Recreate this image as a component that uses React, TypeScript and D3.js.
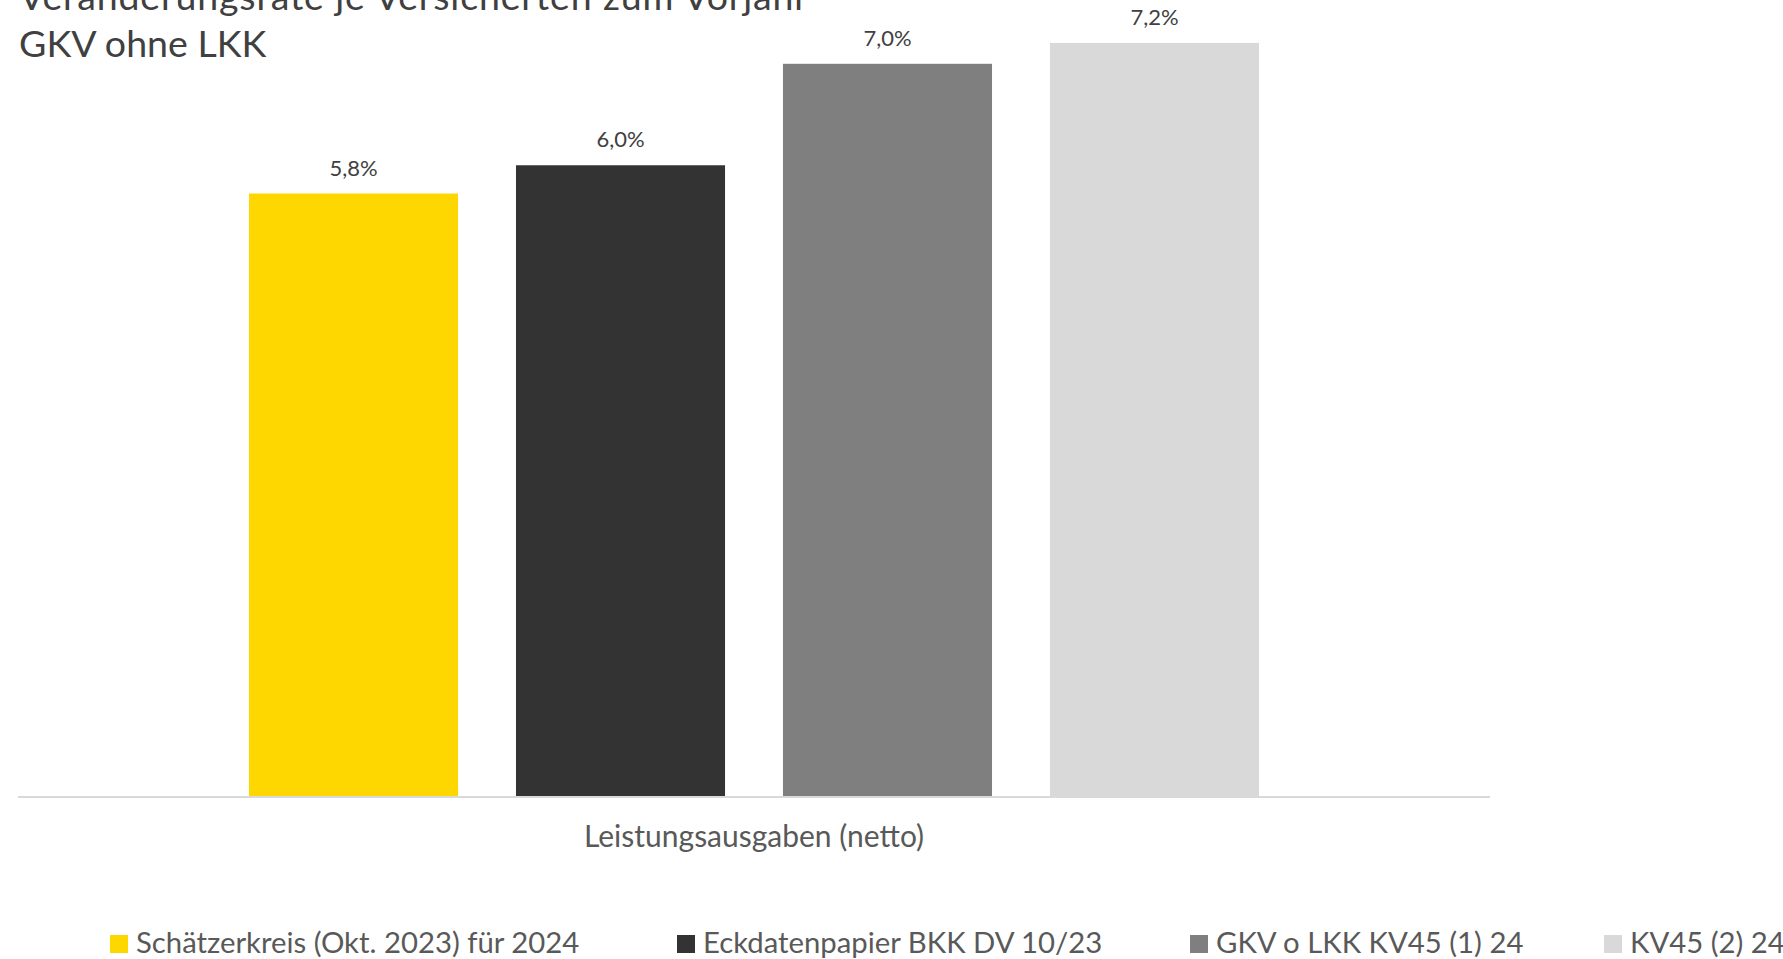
import React from "react";
import * as d3 from "d3";

const titleLines = ["Veränderungsrate je Versicherten zum Vorjahr", "GKV ohne LKK"];
const categories = ["Leistungsausgaben (netto)"];
const seriesNames = [
  "Schätzerkreis (Okt. 2023) für 2024",
  "Eckdatenpapier BKK DV 10/23",
  "GKV o LKK KV45 (1) 24",
  "KV45 (2) 24",
];
const seriesValues = [5.76, 6.03, 7.0, 7.2];
const seriesLabels = ["5,8%", "6,0%", "7,0%", "7,2%"];
const seriesColors = ["#FFD700", "#333333", "#7F7F7F", "#D9D9D9"];

const W = 1783;
const H = 959;
const FONT = "Lato, 'Open Sans', sans-serif";

export default function App() {
  const plotLeft = 18;
  const plotRight = 1490;
  const baseY = 796;
  const pxPerUnit = 104.6;
  const yMax = 7.6;

  const y = d3.scaleLinear().domain([0, yMax]).range([baseY, baseY - yMax * pxPerUnit]);
  const x0 = d3.scaleBand<string>().domain(categories).range([plotLeft, plotRight]).padding(0);
  const outerGap = 231;
  const x1 = d3
    .scaleBand<string>()
    .domain(seriesNames)
    .range([outerGap, x0.bandwidth() - outerGap])
    .paddingInner(0.217)
    .paddingOuter(0);

  const legendX = [110, 677, 1190, 1604];
  const legendBase = 953;
  const sq = 18;
  const titleY = [10, 57];

  return (
    <svg
      width={W}
      height={H}
      style={{ position: "absolute", left: 0, top: 0, background: "#fff" }}
      fontFamily={FONT}
    >
      <rect x={0} y={0} width={W} height={H} fill="#ffffff" />
      {/* Title */}
      {titleLines.map((t, i) => (
        <text
          key={i}
          x={19}
          y={titleY[i]}
          fontSize={37.5}
          fill="#404040"
          {...(i === 0 ? { textLength: 789, lengthAdjust: "spacing" } : {})}
        >
          {t}
        </text>
      ))}

      {/* Bars */}
      {categories.map((c) => (
        <g key={c} transform={`translate(${x0(c)},0)`}>
          {seriesNames.map((s, i) => (
            <g key={s}>
              <rect
                x={x1(s)}
                y={y(seriesValues[i])}
                width={x1.bandwidth()}
                height={y(0) - y(seriesValues[i])}
                fill={seriesColors[i]}
              />
              <text
                x={(x1(s) as number) + x1.bandwidth() / 2}
                y={y(seriesValues[i]) - 18}
                textAnchor="middle"
                fontSize={22}
                fill="#404040"
              >
                {seriesLabels[i]}
              </text>
            </g>
          ))}
          <text
            x={x0.bandwidth() / 2}
            y={847}
            textAnchor="middle"
            fontSize={30}
            fill="#595959"
          >
            {c}
          </text>
        </g>
      ))}

      {/* Axis line */}
      <line x1={plotLeft} x2={plotRight} y1={baseY + 1} y2={baseY + 1} stroke="#D9D9D9" strokeWidth={2} />

      {/* Legend */}
      {seriesNames.map((s, i) => (
        <g key={s}>
          <rect x={legendX[i]} y={legendBase - sq} width={sq} height={sq} fill={seriesColors[i]} />
          <text x={legendX[i] + sq + 8} y={legendBase} fontSize={29.3} fill="#595959">
            {s}
          </text>
        </g>
      ))}
    </svg>
  );
}
